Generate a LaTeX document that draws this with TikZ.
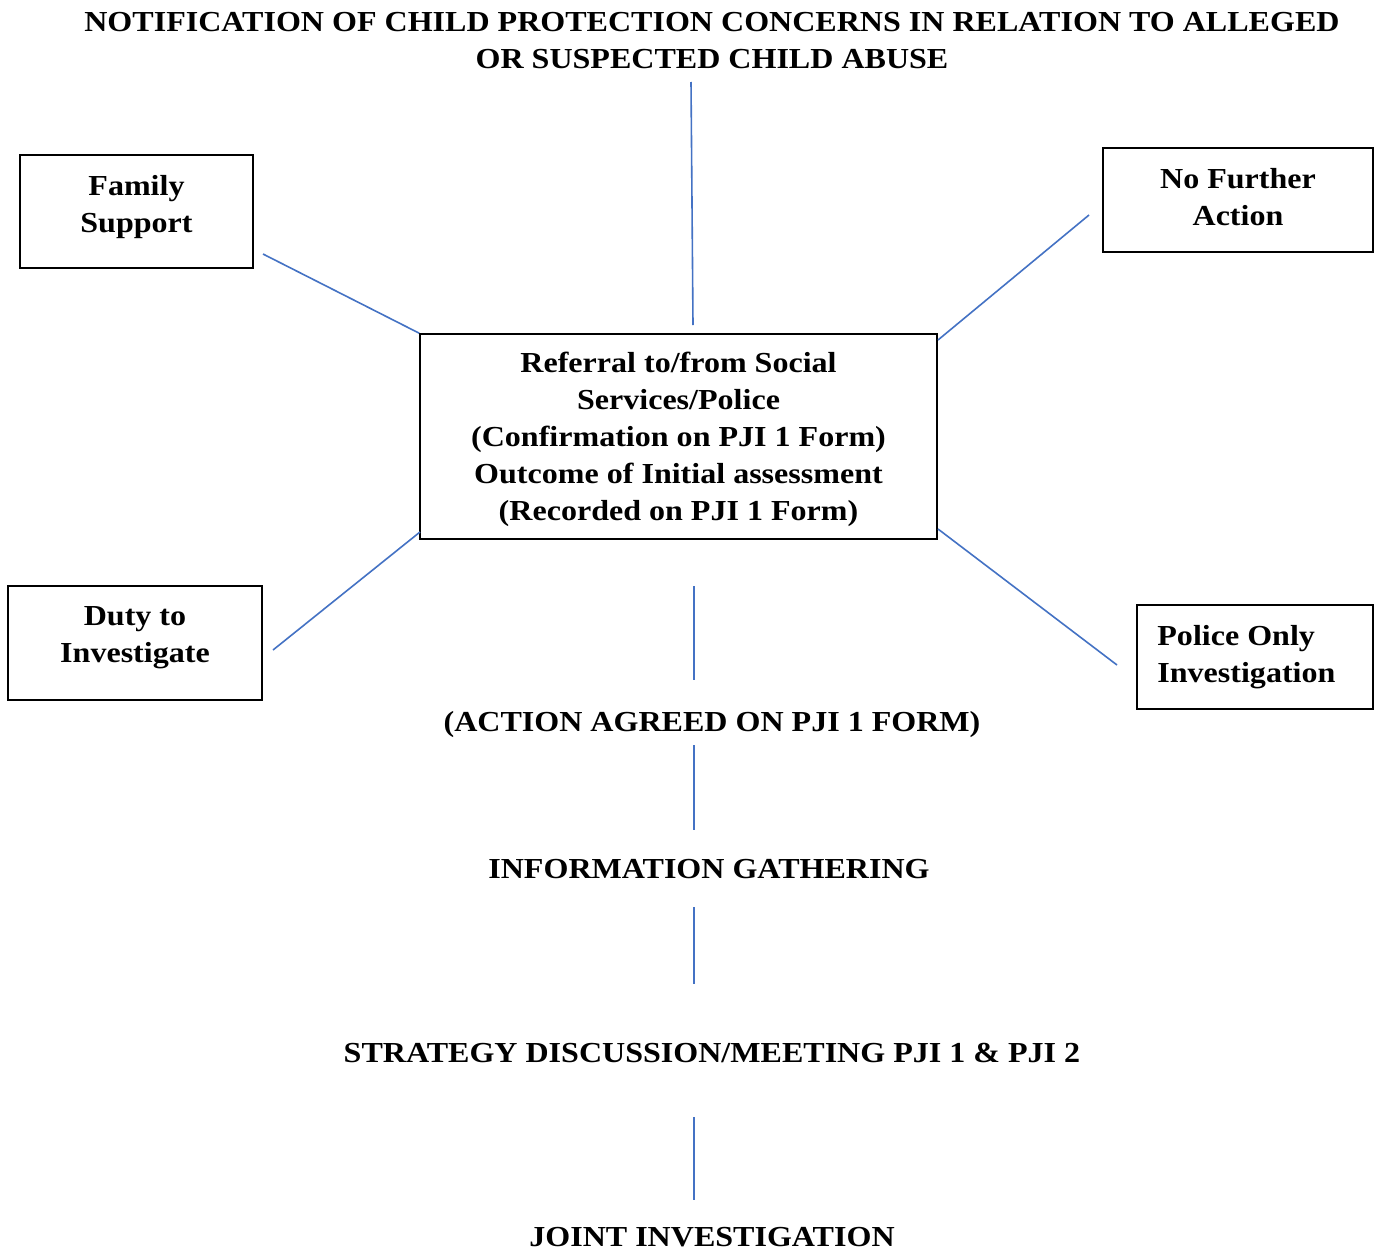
\documentclass[tikz,border=0pt]{standalone}
\usepackage{fontspec}
\setmainfont{Liberation Serif}[FakeStretch=1.105]
\definecolor{linkblue}{HTML}{4472C4}
\begin{document}
\begin{tikzpicture}[x=1pt,y=-1pt,
  txt/.style={font=\fontsize{29}{37}\selectfont\bfseries, align=center, inner sep=0pt},
  box/.style={draw=black, line width=1.6pt, inner sep=0pt},
  link/.style={draw=linkblue, line width=1.6pt}]
\useasboundingbox (0,0) rectangle (1378,1250);
\fill[white] (0,0) rectangle (1378,1250);

\node[txt] (title) at (712,41) {NOTIFICATION OF CHILD PROTECTION CONCERNS IN RELATION TO ALLEGED\\OR SUSPECTED CHILD ABUSE};

\node[box, minimum width=233, minimum height=113,
  label={[txt, yshift=4.5pt]center:Family\\Support}] (fs) at (136.5,211.5) {};
\node[box, minimum width=270, minimum height=104,
  label={[txt, yshift=3pt]center:No Further\\Action}] (nfa) at (1238,200) {};
\node[box, minimum width=517, minimum height=205,
  label={[txt, yshift=-3pt]center:Referral to/from Social\\Services/Police\\(Confirmation on PJI 1 Form)\\Outcome of Initial assessment\\(Recorded on PJI 1 Form)}] (ref) at (678.5,436.5) {};
\node[box, minimum width=254, minimum height=114,
  label={[txt, yshift=5.5pt]center:Duty to\\Investigate}] (duty) at (135,643) {};
\node[box, minimum width=236, minimum height=104,
  label={[txt, align=left, anchor=west, xshift=21pt]west:Police Only\\Investigation}] (pol) at (1255,657) {};

\node[txt] (act) at (712,725) {(ACTION AGREED ON PJI 1 FORM)};
\node[txt] (info) at (709,869) {INFORMATION GATHERING};
\node[txt] (strat) at (712,1053) {STRATEGY DISCUSSION/MEETING PJI 1 \& PJI 2};
\node[txt] (joint) at (712,1237) {JOINT INVESTIGATION};

% connector end points
\coordinate (t1) at (691,82);   \coordinate (t2) at (693,325);
\coordinate (f1) at (263,254);  \coordinate (f2) at (ref.north west);
\coordinate (n1) at (1089,215); \coordinate (n2) at (938,340);
\coordinate (d1) at (273,650);  \coordinate (d2) at (420,532);
\coordinate (p1) at (938,529);  \coordinate (p2) at (1117,665);
\coordinate (a1) at (694,586);  \coordinate (a2) at (694,680);
\coordinate (b1) at (694,745);  \coordinate (b2) at (694,830);
\coordinate (c1) at (694,907);  \coordinate (c2) at (694,984);
\coordinate (e1) at (694,1117); \coordinate (e2) at (694,1200);

\draw[link] (t1) -- (t2);
\draw[link] (f1) -- (f2);
\draw[link] (n1) -- (n2);
\draw[link] (d1) -- (d2);
\draw[link] (p1) -- (p2);
\draw[link] (a1) -- (a2);
\draw[link] (b1) -- (b2);
\draw[link] (c1) -- (c2);
\draw[link] (e1) -- (e2);
\end{tikzpicture}
\end{document}
